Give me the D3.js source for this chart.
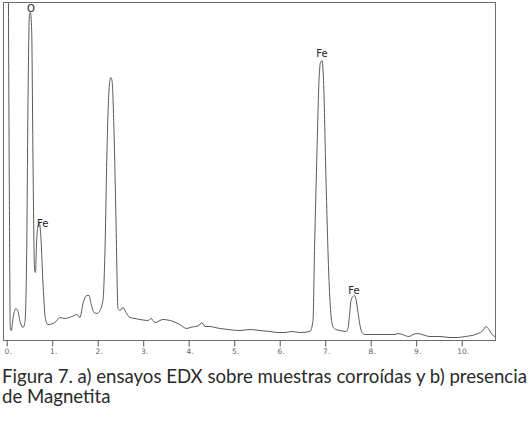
<!DOCTYPE html>
<html>
<head>
<meta charset="utf-8">
<script src="https://cdn.jsdelivr.net/npm/d3@7"></script>
<style>
  html, body { margin: 0; padding: 0; background: #fff; }
  svg { display: block; }
</style>
</head>
<body>
<svg id="chart" width="529" height="423"></svg>
<script>
// EDX spectrum (energy in keV, counts in arbitrary units)
const energy = [0.031, 0.059, 0.079, 0.10, 0.138, 0.2, 0.24, 0.3, 0.358, 0.4, 0.44, 0.468, 0.5, 0.521, 0.549,
  0.578, 0.611, 0.631, 0.659, 0.69, 0.721, 0.749, 0.8, 0.85, 0.908, 1.06, 1.17, 1.28, 1.435, 1.545, 1.61,
  1.677, 1.765, 1.81, 1.853, 1.919, 1.985, 2.05, 2.116, 2.16, 2.204, 2.248, 2.286, 2.314, 2.358, 2.402,
  2.446, 2.49, 2.556, 2.622, 2.71, 2.82, 2.93, 3.105, 3.171, 3.26, 3.435, 3.59, 3.765, 3.963, 4.029, 4.226,
  4.286, 4.358, 4.468, 4.578, 4.688, 4.864, 5.127, 5.347, 5.567, 5.787, 5.963, 6.117, 6.27, 6.446, 6.666,
  6.732, 6.765, 6.82, 6.864, 6.897, 6.93, 6.963, 7.018, 7.084, 7.128, 7.178, 7.237, 7.325, 7.457, 7.5,
  7.534, 7.567, 7.611, 7.64, 7.677, 7.721, 7.765, 7.81, 7.875, 8.03, 8.205, 8.425, 8.535, 8.6, 8.69, 8.84,
  8.93, 9.018, 9.128, 9.3, 9.523, 9.743, 9.92, 10.07, 10.226, 10.358, 10.468, 10.534, 10.6, 10.666, 10.73];
const counts = [420, 140, 12, 10, 22, 32, 30, 18, 13, 18, 90, 240, 326, 328, 310,
  180, 72, 68, 100, 115, 117, 105, 55, 22, 16, 18, 23, 22, 24, 26, 23,
  37, 45, 45, 37, 28, 27, 30, 40, 90, 190, 250, 263, 260, 210, 120,
  32, 30, 33, 28, 23, 22, 21, 20, 22, 18, 21, 20, 17, 12, 13, 15,
  18, 14, 14, 13, 12, 11, 10, 11, 10, 9, 8, 8, 9, 8, 9,
  20, 90, 190, 260, 278, 280, 260, 160, 60, 25, 13, 11, 10, 9, 12,
  25, 40, 44, 45, 41, 28, 15, 8, 6, 6, 6, 6, 6, 7, 6, 4,
  6, 7, 6, 4, 4, 3, 3, 4, 5, 7, 10, 14, 11, 6, 4];
const tickKeV = [0, 1, 2, 3, 4, 5, 6, 7, 8, 9, 10];
const peakNames = ['O', 'Fe', 'Fe', 'Fe'];
const peakKeV = [0.53, 0.79, 6.93, 7.63];
const peakCounts = [329, 114, 284, 47];
const captionLines = ['Figura 7. a) ensayos EDX sobre muestras corroídas y b) presencia', 'de Magnetita'];

const svg = d3.select('#chart');
const frame = { left: 3.5, right: 495.5, top: 2.5, bottom: 340.5 };

const x = d3.scaleLinear().domain([0, 10]).range([6.7, 461.7]);
const y = d3.scaleLinear().domain([0, 338]).range([frame.bottom, frame.top]);

svg.append('clipPath').attr('id', 'plot-clip')
  .append('rect')
  .attr('x', frame.left).attr('y', frame.top)
  .attr('width', frame.right - frame.left).attr('height', frame.bottom - frame.top);

// Spectrum
const line = d3.line()
  .x((d, i) => x(energy[i]))
  .y(d => y(d))
  .curve(d3.curveMonotoneX);

svg.append('path')
  .datum(counts)
  .attr('clip-path', 'url(#plot-clip)')
  .attr('d', line)
  .attr('fill', 'none')
  .attr('stroke', '#5a5a5a')
  .attr('stroke-width', 1);

// Frame
svg.append('rect')
  .attr('x', frame.left).attr('y', frame.top)
  .attr('width', frame.right - frame.left).attr('height', frame.bottom - frame.top)
  .attr('fill', 'none')
  .attr('stroke', '#6e6e6e')
  .attr('stroke-width', 1);

// Energy axis
const xAxis = d3.axisBottom(x)
  .tickValues(tickKeV)
  .tickSize(6)
  .tickPadding(2)
  .tickFormat(d => d + '.');

const axisG = svg.append('g')
  .attr('transform', `translate(0, ${frame.bottom})`)
  .call(xAxis);
axisG.select('.domain').remove();
axisG.selectAll('line').attr('stroke', '#555');
axisG.selectAll('text')
  .attr('fill', '#666')
  .style('font-family', 'DejaVu Sans, sans-serif')
  .style('font-size', '7.5px')
  .attr('dx', '1px');

// Peak labels
svg.selectAll('.peak-label')
  .data(peakNames)
  .join('text')
  .attr('class', 'peak-label')
  .attr('x', (d, i) => x(peakKeV[i]))
  .attr('y', (d, i) => y(peakCounts[i]))
  .attr('text-anchor', 'middle')
  .attr('fill', '#222')
  .style('font-family', 'DejaVu Sans, sans-serif')
  .style('font-size', '10px')
  .text(d => d);

// Caption
const cap = svg.selectAll('.caption')
  .data(captionLines)
  .join('text')
  .attr('class', 'caption')
  .attr('x', 2)
  .attr('y', (d, i) => 383 + i * 20)
  .attr('fill', '#2a2a2a')
  .style('font-family', 'Lato, sans-serif')
  .style('font-size', '16px')
  .text(d => d);

// fit first caption line to the width it takes in the figure
const w0 = cap.nodes()[0].getComputedTextLength();
const fs = 16 * 525 / w0;
cap.style('font-size', fs + 'px');
</script>
</body>
</html>
